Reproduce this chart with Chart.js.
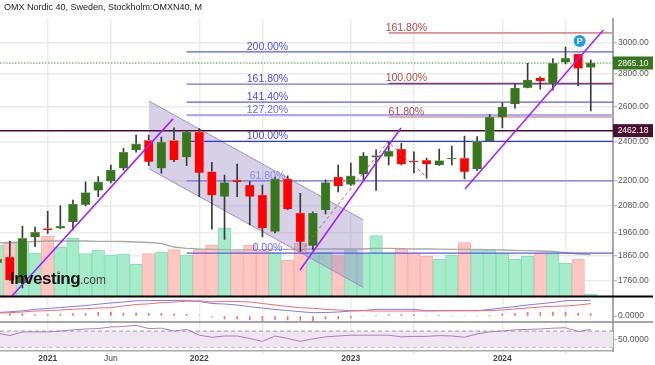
<!DOCTYPE html>
<html lang="en">
<head>
    <meta charset="UTF-8">
    <title>OMX Nordic 40</title>
    <style>
        body { margin: 0; background: #fff; }
        canvas { display: block; }
    </style>
</head>
<body>
<canvas id="myChart" width="655" height="365"></canvas>

<script src="https://cdn.jsdelivr.net/npm/chart.js"></script>
<script>
    const chartTitle = 'OMX Nordic 40, Sweden, Stockholm:OMXN40, M';

    // month number, 0 = Jan 2021
    const months = [-4, -3, -2, -1, 0, 1, 2, 3, 4, 5, 6, 7, 8, 9, 10, 11, 12, 13, 14, 15, 16, 17, 18, 19,
        20, 21, 22, 23, 24, 25, 26, 27, 28, 29, 30, 31, 32, 33, 34, 35, 36, 37, 38, 39, 40, 41, 42, 43];

    const candleOpen = [1831, 1855, 1750, 1939, 1977, 1979, 2007, 2085, 2153, 2198, 2263, 2358,
        2409, 2263, 2409, 2320, 2455, 2246, 2124, 2205, 2180, 2132, 1964, 2210,
        2047, 1903, 2061, 2219, 2182, 2233, 2320, 2323, 2363, 2301, 2304, 2280,
        2310, 2315, 2259, 2404, 2539, 2614, 2711, 2772, 2733, 2870, 2923, 2837];
    const candleHigh = [1870, 1923, 1988, 1984, 2055, 2080, 2108, 2195, 2221, 2280, 2367, 2438,
        2438, 2427, 2478, 2462, 2474, 2293, 2229, 2285, 2197, 2179, 2220, 2225,
        2140, 2053, 2205, 2280, 2289, 2344, 2358, 2401, 2393, 2348, 2315, 2363,
        2379, 2433, 2430, 2552, 2620, 2738, 2863, 2777, 2893, 2970, 2923, 2884];
    const candleLow = [1815, 1760, 1731, 1899, 1956, 1977, 1971, 2080, 2124, 2190, 2254, 2346,
        2276, 2239, 2297, 2276, 2124, 1974, 1930, 2124, 1993, 1942, 1958, 2063,
        1878, 1885, 2043, 2146, 2178, 2205, 2153, 2280, 2280, 2240, 2213, 2278,
        2280, 2210, 2251, 2403, 2477, 2590, 2709, 2702, 2696, 2860, 2722, 2573];
    const candleClose = [1847, 1762, 1934, 1961, 1971, 1987, 2088, 2143, 2195, 2254, 2346, 2390,
        2297, 2399, 2306, 2453, 2240, 2130, 2192, 2195, 2124, 1979, 2210, 2066,
        1920, 2047, 2192, 2175, 2225, 2327, 2328, 2351, 2284, 2296, 2284, 2302,
        2316, 2246, 2404, 2537, 2596, 2709, 2758, 2752, 2863, 2896, 2830, 2865.10];

    const volume = [51, 52.7, 52.7, 43, 60, 49, 57.7, 42.3, 46, 41, 42, 31.7,
        42.3, 44, 46.3, 41, 46.3, 51, 67.7, 45, 51, 45, 43.3, 36,
        52.7, 43.3, 44, 40.3, 45.7, 42.3, 60.3, 43, 47, 42.3, 39.7, 37,
        40.7, 53.3, 46.7, 45.7, 42.3, 36.7, 39.7, 42.3, 42.3, 32.7, 37, 2];
    const volumeAvg = [53, 53.5, 54, 54.5, 55, 55, 55, 55, 54.7, 54.7, 54.5, 54,
        53.5, 52.7, 49, 47.7, 47, 46.7, 46.3, 46.2, 46.2, 46.3, 46.5, 46.7,
        46.7, 47, 47, 47, 47, 47, 47.7, 47.7, 47.3, 47, 47, 46.8,
        46.7, 46.6, 46.5, 46.3, 46, 45.7, 45.3, 45, 44.5, 43.3, 42, 41.3];

    const macdLine = [17.5, 21, 26, 33.5, 37.5, 42.5, 47.5, 52.5, 59, 65, 70, 76,
        77, 77.5, 78, 78.5, 72.5, 62.5, 60, 55, 46.5, 40, 32.5, 27.5,
        21.5, 16.5, 17.5, 20, 25, 27.5, 33.5, 33.5, 33.5, 33.5, 26.5, 26.5,
        26.5, 26.5, 26.5, 32.5, 40, 47.5, 55, 61.5, 67.5, 76.5, 78, 78.5];
    const macdSignal = [14, 16.5, 20, 25, 26.5, 30, 33.5, 36.5, 40, 41.5, 50, 57.5,
        61, 66.5, 70, 74, 76, 70, 73.5, 72.5, 70, 62.5, 55, 47.5,
        41.5, 38.5, 33.5, 30, 26.5, 26, 25, 25, 25, 25, 25, 26,
        26.5, 26.5, 26.5, 27.5, 30, 35, 40, 45, 48.5, 50, 55, 61.5];
    const macdHist = [10, 11.5, 11.5, 6.5, 7.5, 10, 12.5, 12.5, 18.5, 18.5, 15, 15,
        13.5, 13.5, 10, 8.5, 2.5, -5, -15, -15, -20, -22.5, -17.5, -20,
        -22.5, -25, -15, -15, -10, 0, 1.5, 7.5, 7.5, 7.5, 2.5, 1.5,
        0, 0, 0, 1.5, 10, 12.5, 18.5, 20, 20, 20, 15, 12.5];

    const rsi = [65, 59, 68, 68, 68, 70, 73, 75, 76, 80, 81, 84,
        76, 77, 70, 74, 60, 55, 58, 58, 52, 45, 58, 52,
        45, 51, 56, 58, 60, 60, 60, 60, 56, 57, 57, 59,
        58, 55, 63, 68, 70, 73, 74, 75, 77, 78, 69, 74];
    const rsiLevels = [70, 30];

    const priceTicks = [3000, 2800, 2600, 2400, 2200, 2080, 1960, 1860, 1760];
    const macdTicks = [0];
    const rsiTicks = [50];
    const xTickMonths = [0, 5, 12, 17, 24, 29, 36, 41];
    const xTickLabels = ['2021', 'Jun', '2022', '', '2023', '', '2024', ''];

    const fibBluePrices = [2937, 2733, 2625, 2549, 2404, 2200, 1871];
    const fibBlueLabels = ['200.00%', '161.80%', '141.40%', '127.20%', '100.00%', '61.80%', '0.00%'];
    const fibBlueStart = 11.0;
    const fibBlueLabelAt = 17.4;
    const fibRedPrices = [3065, 2737, 2539];
    const fibRedLabels = ['161.80%', '100.00%', '61.80%'];
    const fibRedStart = 27.0;
    const fibRedLabelAt = 28.4;

    const lastPrice = 2865.10;
    const keyLevel = 2462.18;

    const trendMonths = [[-2.83, 9.92], [19.98, 27.97], [33.04, 44.0]];
    const trendPrices = [[1700, 2528], [1802, 2477], [2161, 3085]];
    const channelMonths = [8.02, 24.99];
    const channelUpper = [2631, 2016];
    const channelLower = [2261, 1733];
    const zigzagMonths = [20.05, 26.94, 30.03];
    const zigzagPrices = [1878, 2401, 2218];
    const pivotMonth = 42.12;
    const pivotPrice = 3010;

    const xMin = -3.777;
    const xMax = 44.76;

    const GREEN = '#38761d';
    const RED = '#ff0000';
    const FONT = '"Liberation Sans", Arial, sans-serif';

    function pts(xs, ys) {
        return xs.map((x, i) => ({ x: x, y: ys[i] }));
    }
    function hline(value) {
        return [{ x: xMin, y: value }, { x: xMax, y: value }];
    }
    const isUp = months.map((m, i) => candleClose[i] >= candleOpen[i]);

    const datasets = [];

    // volume, behind everything else
    datasets.push({
        type: 'bar', yAxisID: 'yVol', order: 100, barThickness: 12.6, grouped: false,
        data: months.map((m, i) => ({ x: m, y: [0, volume[i]] })),
        backgroundColor: isUp.map(u => u ? '#a6ebca' : '#ffc6c2'),
        borderColor: isUp.map(u => u ? '#86e0b6' : '#ffadA8'),
        borderWidth: 1
    });
    datasets.push({
        type: 'line', yAxisID: 'yVol', order: 95, data: pts(months, volumeAvg),
        borderColor: '#a8a8a8', borderWidth: 1.3
    });

    // channel
    datasets.push({
        type: 'line', yAxisID: 'y', order: 90, data: pts(channelMonths, channelUpper),
        borderColor: '#a88fc8', borderWidth: 1, fill: '+1', backgroundColor: 'rgba(150,135,195,0.38)'
    });
    datasets.push({
        type: 'line', yAxisID: 'y', order: 90, data: pts(channelMonths, channelLower),
        borderColor: '#a88fc8', borderWidth: 1
    });

    // fib levels
    const blueWidths = [1.2, 1.2, 1.2, 2.2, 1.3, 1.2, 1.2];
    const blueColors = ['#5a5aee', '#7070ea', '#5a5aee', '#aaaaf8', '#3030e4', '#7070ea', '#5a5aee'];
    fibBluePrices.forEach((p, i) => {
        datasets.push({
            type: 'line', yAxisID: 'y', order: 80,
            data: [{ x: fibBlueStart, y: p }, { x: xMax, y: p }],
            borderColor: blueColors[i], borderWidth: blueWidths[i]
        });
    });
    const redColors = ['#d99090', '#8c3c6c', '#dc9a9a'];
    fibRedPrices.forEach((p, i) => {
        datasets.push({
            type: 'line', yAxisID: 'y', order: 79,
            data: [{ x: fibRedStart, y: p }, { x: xMax, y: p }],
            borderColor: redColors[i], borderWidth: i === 1 ? 1.2 : 1.6
        });
    });

    datasets.push({
        type: 'line', yAxisID: 'y', order: 70, data: hline(keyLevel),
        borderColor: '#4a1030', borderWidth: 1.5
    });
    datasets.push({
        type: 'line', yAxisID: 'y', order: 70, data: hline(lastPrice),
        borderColor: '#4f8f3a', borderWidth: 1, borderDash: [1.5, 1.5]
    });

    // candles
    datasets.push({
        type: 'bar', yAxisID: 'y', order: 50, barThickness: 1, grouped: false,
        data: months.map((m, i) => ({ x: m, y: [candleLow[i], candleHigh[i]] })),
        backgroundColor: '#3a3a3a'
    });
    datasets.push({
        type: 'bar', yAxisID: 'y', order: 40, barThickness: 9, grouped: false,
        data: months.map((m, i) => ({ x: m, y: [candleOpen[i], candleClose[i]] })),
        backgroundColor: isUp.map(u => u ? GREEN : RED),
        borderColor: isUp.map(u => u ? '#7ba368' : '#ff8a8a'),
        borderWidth: 0.6
    });

    datasets.push({
        type: 'line', yAxisID: 'y', order: 35, data: pts(zigzagMonths, zigzagPrices),
        borderColor: '#b85a5a', borderWidth: 1, borderDash: [3, 3]
    });
    trendMonths.forEach((xs, i) => {
        datasets.push({
            type: 'line', yAxisID: 'y', order: 30, data: pts(xs, trendPrices[i]),
            borderColor: '#a61cff', borderWidth: 1.5
        });
    });
    datasets.push({
        type: 'line', yAxisID: 'y', order: 20, showLine: false,
        data: [{ x: pivotMonth, y: pivotPrice }],
        pointRadius: 6, pointBackgroundColor: '#1a9bf0', pointBorderWidth: 0
    });

    // macd pane
    datasets.push({
        type: 'bar', yAxisID: 'yMacd', order: 60, barThickness: 1, grouped: false,
        data: months.map((m, i) => ({ x: m, y: [0, macdHist[i]] })),
        backgroundColor: '#ff6a6a'
    });
    datasets.push({
        type: 'line', yAxisID: 'yMacd', order: 55, data: pts(months, macdLine),
        borderColor: '#7c7cf5', borderWidth: 1
    });
    datasets.push({
        type: 'line', yAxisID: 'yMacd', order: 54, data: pts(months, macdSignal),
        borderColor: '#f56a6a', borderWidth: 1
    });

    // rsi pane
    datasets.push({
        type: 'line', yAxisID: 'yRsi', order: 65, data: hline(rsiLevels[0]),
        borderColor: '#9a9a9a', borderWidth: 1, borderDash: [4, 3],
        fill: '+1', backgroundColor: '#efe6f2'
    });
    datasets.push({
        type: 'line', yAxisID: 'yRsi', order: 65, data: hline(rsiLevels[1]),
        borderColor: '#9a9a9a', borderWidth: 1, borderDash: [4, 3]
    });
    datasets.push({
        type: 'line', yAxisID: 'yRsi', order: 60, data: pts(months, rsi),
        borderColor: '#b578c6', borderWidth: 1
    });

    const yAxisCommon = {
        position: 'right',
        stack: 'panes',
        border: { color: '#a8a8a8', width: 2 },
        ticks: { color: '#555', padding: 1, autoSkip: false, font: { family: FONT, size: 8.5 } },
        afterFit: s => { s.width = 42; s.paddingTop = 0; s.paddingBottom = 0; }
    };

    // text, tags, separators and logo
    const overlay = {
        id: 'overlay',
        afterDraw(chart) {
            const c = chart.ctx;
            const x = chart.scales.x;
            const y = chart.scales.y;
            const area = chart.chartArea;
            c.save();

            // pane separators
            c.strokeStyle = '#000';
            c.lineWidth = 2;
            c.beginPath();
            c.moveTo(0, y.bottom);
            c.lineTo(653, y.bottom);
            c.stroke();
            c.strokeStyle = '#8a8a8a';
            c.lineWidth = 1.5;
            c.beginPath();
            c.moveTo(0, chart.scales.yRsi.top);
            c.lineTo(653, chart.scales.yRsi.top);
            c.stroke();

            c.textBaseline = 'middle';
            c.fillStyle = '#222';
            c.textAlign = 'left';
            c.font = '9px ' + FONT;
            c.fillText(chartTitle, 4, 8);

            // fib labels
            c.textAlign = 'center';
            c.font = '10.5px ' + FONT;
            const blueText = ['#4a4af0', '#4a4af0', '#4a4af0', '#6a6af0', '#4a4af0', '#8a8ae8', '#6a6af0'];
            fibBlueLabels.forEach((t, i) => {
                c.fillStyle = blueText[i];
                c.fillText(t, x.getPixelForValue(fibBlueLabelAt), y.getPixelForValue(fibBluePrices[i]) - 5);
            });
            c.fillStyle = '#b04a4a';
            fibRedLabels.forEach((t, i) => {
                c.fillText(t, x.getPixelForValue(fibRedLabelAt), y.getPixelForValue(fibRedPrices[i]) - 5);
            });

            // price tags on the axis
            c.font = '8.5px ' + FONT;
            [[lastPrice, GREEN], [keyLevel, '#4a1030']].forEach(tag => {
                const py = y.getPixelForValue(tag[0]);
                c.fillStyle = tag[1];
                c.fillRect(area.right, py - 6.5, 40, 13);
                c.fillStyle = '#fff';
                c.fillText(tag[0].toFixed(2), area.right + 20, py + 0.5);
            });

            // pivot marker letter
            c.fillStyle = '#fff';
            c.font = 'bold 9px ' + FONT;
            c.fillText('P', x.getPixelForValue(pivotMonth), y.getPixelForValue(pivotPrice) + 0.5);

            // watermark
            c.textAlign = 'left';
            c.textBaseline = 'alphabetic';
            c.fillStyle = '#111';
            c.font = 'bold 17px ' + FONT;
            c.letterSpacing = '-0.5px';
            c.fillText('Investing', 10, 284);
            c.letterSpacing = '0px';
            c.fillStyle = '#444';
            c.font = '12px ' + FONT;
            c.fillText('.com', 80, 284);
            c.fillStyle = '#f0a020';
            c.beginPath();
            c.arc(58.5, 272, 1.3, 0, Math.PI * 2);
            c.fill();
            c.restore();
        }
    };

    new Chart(document.getElementById('myChart').getContext('2d'), {
        type: 'bar',
        data: { datasets: datasets },
        plugins: [overlay],
        options: {
            responsive: false,
            animation: false,
            devicePixelRatio: 1,
            layout: { autoPadding: false, padding: { top: 19, left: 0, right: 0, bottom: 0 } },
            elements: { point: { radius: 0 }, line: { tension: 0 } },
            plugins: { legend: { display: false }, tooltip: { enabled: false } },
            scales: {
                x: {
                    type: 'linear',
                    offset: false,
                    min: xMin,
                    max: xMax,
                    grid: { offset: false, color: '#ececec', lineWidth: 1.5, tickLength: 3 },
                    border: { color: '#a8a8a8', width: 1.5 },
                    afterBuildTicks: s => { s.ticks = xTickMonths.map(v => ({ value: v })); },
                    afterFit: s => { s.height = 14; s.paddingLeft = 0; s.paddingRight = 0; },
                    ticks: {
                        autoSkip: false,
                        maxRotation: 0,
                        padding: 0,
                        color: '#444',
                        font: ctx => ({
                            family: FONT,
                            size: 8.5,
                            weight: ctx.tick && /^\d/.test(xTickLabels[xTickMonths.indexOf(ctx.tick.value)]) ? 'bold' : 'normal'
                        }),
                        callback: v => xTickLabels[xTickMonths.indexOf(v)]
                    }
                },
                y: {
                    ...yAxisCommon,
                    type: 'logarithmic',
                    min: 1698,
                    max: 3162,
                    weight: 1,
                    stackWeight: 277.5,
                    grid: { color: '#ececec', lineWidth: 1.5, tickLength: 4, tickColor: '#a8a8a8', tickWidth: 1 },
                    afterBuildTicks: s => { s.ticks = priceTicks.map(v => ({ value: v })); },
                    ticks: { ...yAxisCommon.ticks, callback: v => v.toFixed(2) }
                },
                yMacd: {
                    ...yAxisCommon,
                    min: -30,
                    max: 97.5,
                    weight: 2,
                    stackWeight: 25.5,
                    grid: { drawOnChartArea: false, tickLength: 4, tickColor: '#a8a8a8' },
                    afterBuildTicks: s => { s.ticks = macdTicks.map(v => ({ value: v })); },
                    ticks: { ...yAxisCommon.ticks, callback: v => v.toFixed(4) }
                },
                yRsi: {
                    ...yAxisCommon,
                    min: 21.6,
                    max: 92,
                    weight: 3,
                    stackWeight: 29,
                    grid: { drawOnChartArea: false, tickLength: 4, tickColor: '#a8a8a8' },
                    afterBuildTicks: s => { s.ticks = rsiTicks.map(v => ({ value: v })); },
                    ticks: { ...yAxisCommon.ticks, callback: v => v.toFixed(4) }
                },
                // volume overlays the whole plot, one unit per pixel
                yVol: {
                    display: false,
                    position: 'right',
                    min: -55,
                    max: 277
                }
            }
        }
    });
</script>

</body>
</html>
